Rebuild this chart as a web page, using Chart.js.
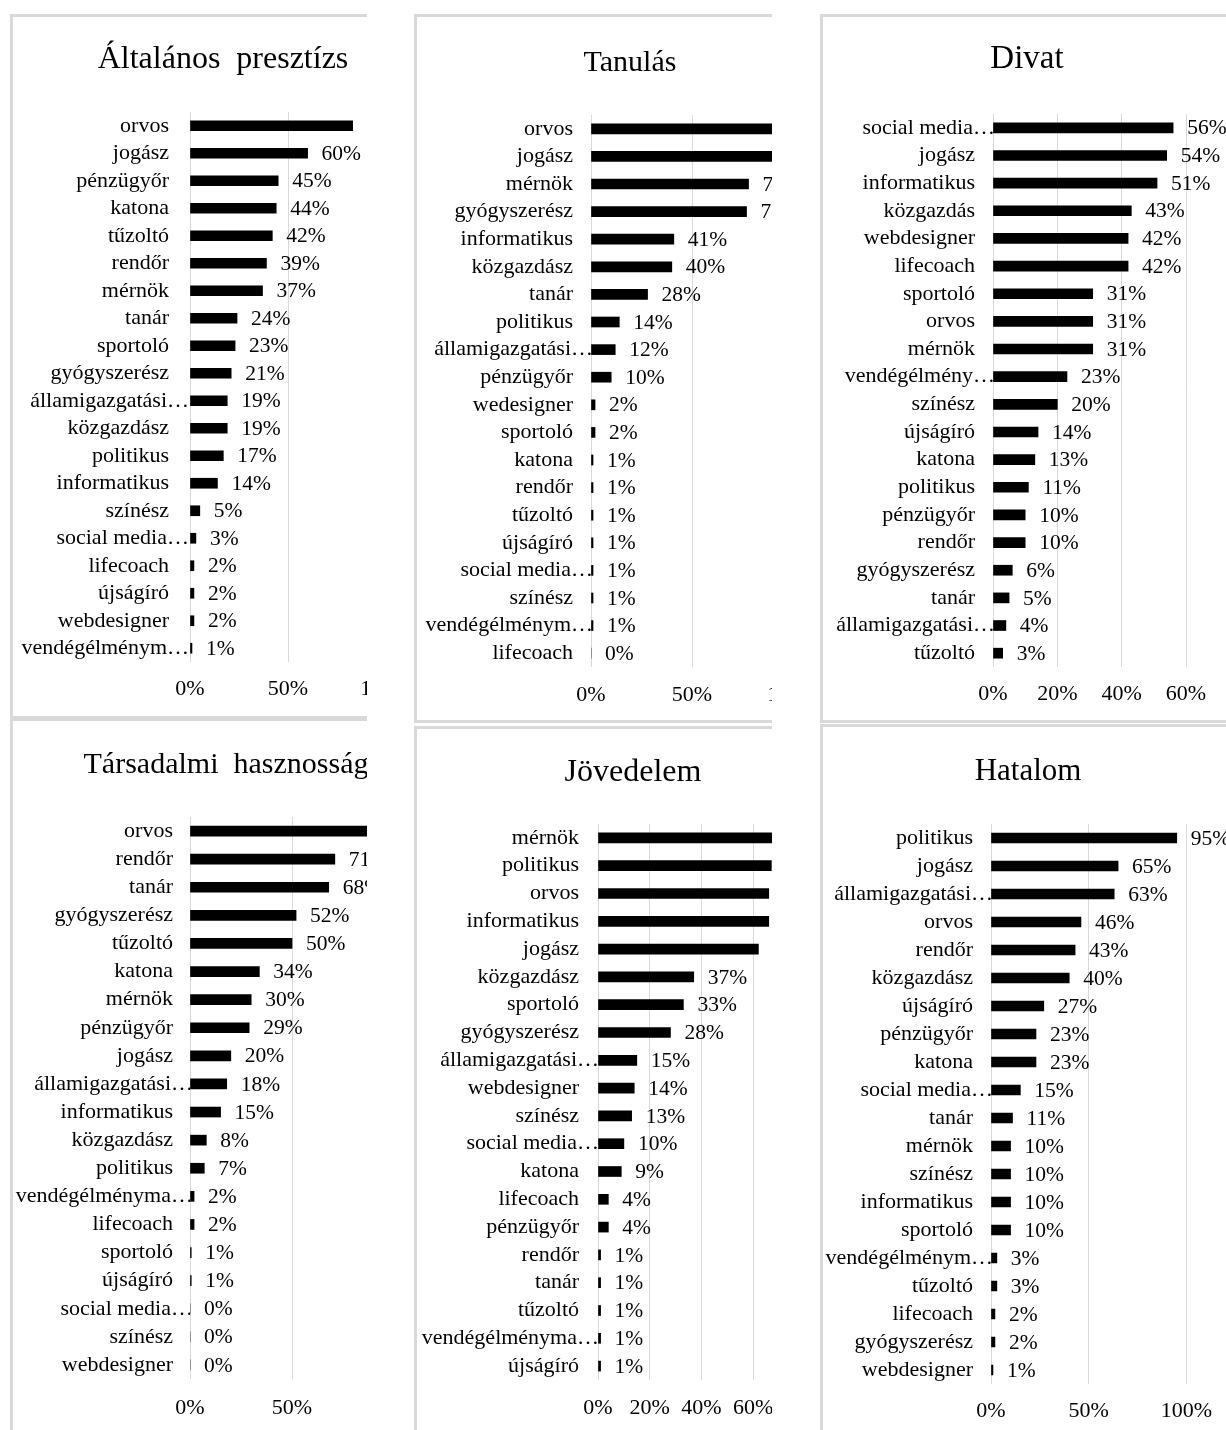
<!DOCTYPE html>
<html><head><meta charset="utf-8">
<script src="https://cdn.jsdelivr.net/npm/chart.js@4.4.1/dist/chart.umd.min.js"></script>
<style>
html,body{margin:0;padding:0;background:#fff;overflow:hidden;width:1226px;height:1430px;position:relative;}
.box{position:absolute;box-sizing:border-box;overflow:hidden;border:0 solid #d9d9d9;background:#fff;}
.box canvas{position:absolute;left:0;top:0;}
.ttl{position:absolute;font-family:'Liberation Serif',serif;line-height:32px;white-space:pre;text-align:center;width:600px;color:#000;}
</style></head><body>
<script>
// ---- data ----
const titles = ["Általános  presztízs", "Tanulás", "Divat", "Társadalmi  hasznosság", "Jövedelem", "Hatalom"];

const cats1 = ["orvos","jogász","pénzügyőr","katona","tűzoltó","rendőr","mérnök","tanár","sportoló","gyógyszerész","államigazgatási…","közgazdász","politikus","informatikus","színész","social media…","lifecoach","újságíró","webdesigner","vendégélménym…"];
const vals1 = [83,60,45,44,42,39,37,24,23,21,19,19,17,14,5,3,2,2,2,1];

const cats2 = ["orvos","jogász","mérnök","gyógyszerész","informatikus","közgazdász","tanár","politikus","államigazgatási…","pénzügyőr","wedesigner","sportoló","katona","rendőr","tűzoltó","újságíró","social media…","színész","vendégélménym…","lifecoach"];
const vals2 = [96,94,78,77,41,40,28,14,12,10,2,2,1,1,1,1,1,1,1,0];

const cats3 = ["social media…","jogász","informatikus","közgazdás","webdesigner","lifecoach","sportoló","orvos","mérnök","vendégélmény…","színész","újságíró","katona","politikus","pénzügyőr","rendőr","gyógyszerész","tanár","államigazgatási…","tűzoltó"];
const vals3 = [56,54,51,43,42,42,31,31,31,23,20,14,13,11,10,10,6,5,4,3];

const cats4 = ["orvos","rendőr","tanár","gyógyszerész","tűzoltó","katona","mérnök","pénzügyőr","jogász","államigazgatási…","informatikus","közgazdász","politikus","vendégélményma…","lifecoach","sportoló","újságíró","social media…","színész","webdesigner"];
const vals4 = [90,71,68,52,50,34,30,29,20,18,15,8,7,2,2,0.6,0.6,0,0,0];

const cats5 = ["mérnök","politikus","orvos","informatikus","jogász","közgazdász","sportoló","gyógyszerész","államigazgatási…","webdesigner","színész","social media…","katona","lifecoach","pénzügyőr","rendőr","tanár","tűzoltó","vendégélményma…","újságíró"];
const vals5 = [70,67,66,66,62,37,33,28,15,14,13,10,9,4,4,1,1,1,1,1];

const cats6 = ["politikus","jogász","államigazgatási…","orvos","rendőr","közgazdász","újságíró","pénzügyőr","katona","social media…","tanár","mérnök","színész","informatikus","sportoló","vendégélménym…","tűzoltó","lifecoach","gyógyszerész","webdesigner"];
const vals6 = [95,65,63,46,43,40,27,23,23,15,11,10,10,10,10,3,3,2,2,1];

const axisMax = [100,100,60,100,80,100];
const axisStep = [50,50,20,50,20,50];

// ---- layout (positions / sizes) ----
const layouts = [
 {l:10,t:14,w:357,h:705,bw:[3,0,3,3],W:420,caL:177,caR:373,caT:95,caB:645,padX:13.8,padY:21,tcx:223,tb:68,ts:32},
 {l:414,t:14,w:358,h:709,bw:[3,0,3,3],W:420,caL:174,caR:376,caT:98,caB:650,padX:14.8,padY:18,tcx:630,tb:71,ts:30},
 {l:820,t:14,w:406,h:709,bw:[3,0,3,3],W:403,caL:170,caR:363,caT:97,caB:650,padX:13.8,padY:18,tcx:1027,tb:68,ts:33},
 {l:10,t:718,w:357,h:712,bw:[3,0,0,3],W:440,caL:177,caR:381,caT:96,caB:658,padX:15.8,padY:17,tcx:226,tb:773,ts:30},
 {l:414,t:726,w:358,h:704,bw:[3,0,0,3],W:430,caL:181,caR:388,caT:95,caB:651,padX:14.8,padY:19,tcx:633,tb:781,ts:32},
 {l:820,t:724,w:406,h:706,bw:[3,0,0,3],W:403,caL:168,caR:364,caT:97,caB:657,padX:13.8,padY:18,tcx:1028,tb:780,ts:31}
];
const allCats = [cats1,cats2,cats3,cats4,cats5,cats6];
const allVals = [vals1,vals2,vals3,vals4,vals5,vals6];

const FONT = "'Liberation Serif', serif";
const LABEL_SIZE = 22;

const valueLabels = {
  id:'valueLabels',
  afterDatasetsDraw(chart){
    const ctx = chart.ctx;
    const meta = chart.getDatasetMeta(0);
    const data = chart.data.datasets[0].data;
    ctx.save();
    ctx.font = "21.5px " + FONT;
    ctx.fillStyle = '#000';
    ctx.textAlign = 'left';
    ctx.textBaseline = 'middle';
    meta.data.forEach((bar,i)=>{
      ctx.fillText(Math.round(data[i]) + '%', bar.x + 14, bar.y + 1);
    });
    ctx.restore();
  }
};

// truncated category names: let the ellipsis hang past the label edge, as in the original
const ellipsisHang = {
  id:'ellipsisHang',
  beforeDraw(chart){
    const y = chart.scales.y;
    const items = y.getLabelItems();
    const ctx = chart.ctx;
    ctx.save(); ctx.font = LABEL_SIZE + "px " + FONT;
    const w = ctx.measureText('…').width;
    ctx.restore();
    items.forEach(it=>{
      if (!it._hung && typeof it.label === 'string' && it.label.endsWith('…')) {
        it.options.translation[0] += w - 2;
        it._hung = true;
      }
    });
  }
};

layouts.forEach((g, k)=>{
  const box = document.createElement('div');
  box.className = 'box';
  box.style.left = g.l+'px'; box.style.top = g.t+'px';
  box.style.width = g.w+'px'; box.style.height = g.h+'px';
  box.style.borderWidth = g.bw.map(v=>v+'px').join(' ');
  document.body.appendChild(box);
  const ox = g.l + g.bw[3], oy = g.t + g.bw[0];
  const H = g.h - g.bw[0] - g.bw[2];

  const cv = document.createElement('canvas');
  cv.width = g.W; cv.height = H;
  cv.style.width = g.W+'px'; cv.style.height = H+'px';
  box.appendChild(cv);

  const tt = document.createElement('div');
  tt.className = 'ttl';
  tt.textContent = titles[k];
  tt.style.fontSize = g.ts + 'px';
  const baseOff = (32 - 1.107*g.ts)/2 + 0.891*g.ts;
  tt.style.left = (g.tcx - ox - 300)+'px';
  tt.style.top = (g.tb - baseOff - oy)+'px';
  box.appendChild(tt);

  new Chart(cv, {
    type:'bar',
    data:{ labels: allCats[k], datasets:[{ data: allVals[k], backgroundColor:'#000', borderWidth:0, barThickness:10 }] },
    options:{
      responsive:false, animation:false, indexAxis:'y',
      layout:{ padding:{ left:0, right:g.W - g.caR, top:g.caT, bottom:0 } },
      plugins:{ legend:{display:false}, title:{display:false}, tooltip:{enabled:false} },
      scales:{
        x:{
          min:0, max:axisMax[k],
          ticks:{ stepSize:axisStep[k], callback:v=>v+'%', color:'#000', font:{family:FONT, size:LABEL_SIZE}, padding:g.padX, maxRotation:0, autoSkip:false },
          grid:{ color:'#d9d9d9', lineWidth:1, drawTicks:false },
          border:{ display:false },
          afterFit:s=>{ s.height = H - g.caB; }
        },
        y:{
          ticks:{ color:'#000', font:{family:FONT, size:LABEL_SIZE}, padding:g.padY, autoSkip:false },
          grid:{ display:false, drawTicks:false },
          border:{ display:false },
          afterFit:s=>{ s.width = g.caL; }
        }
      }
    },
    plugins:[valueLabels, ellipsisHang]
  });
});
</script>
</body></html>
